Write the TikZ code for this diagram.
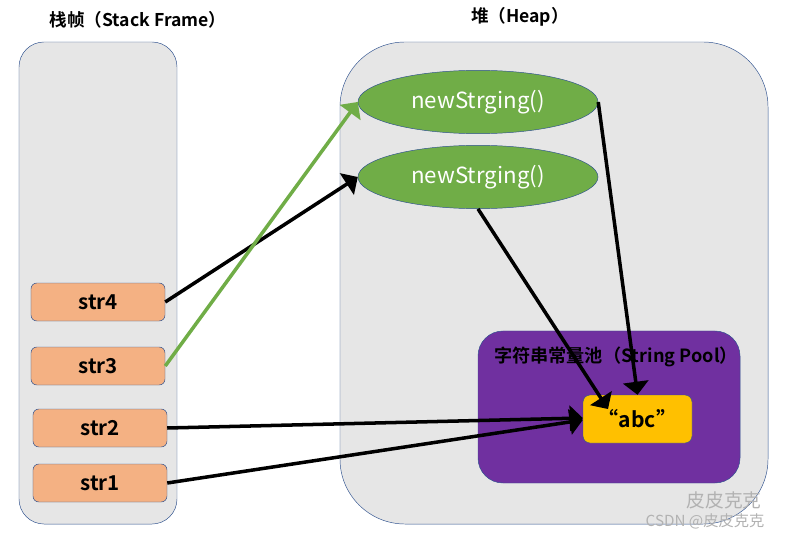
\documentclass[tikz,border=0pt]{standalone}
\usepackage{fontspec}
\setmainfont{Noto Sans CJK SC}[BoldFont={Noto Sans CJK SC Bold}]
\usepackage{tikz}
\usetikzlibrary{arrows, shapes.geometric, positioning, calc}
\definecolor{lineblue}{RGB}{47,82,143}
\definecolor{areagray}{RGB}{230,230,230}
\definecolor{objgreen}{RGB}{112,173,71}
\definecolor{poolpurple}{RGB}{112,48,160}
\definecolor{strorange}{RGB}{244,177,131}
\definecolor{abcyellow}{RGB}{255,192,0}
\tikzset{
  area/.style={draw=lineblue, fill=areagray, rounded corners=0.75cm, minimum height=14.46cm},
  strbox/.style={draw=lineblue, fill=strorange, rounded corners=5pt, minimum width=4.02cm, minimum height=1.14cm, inner sep=0pt, font=\bfseries\fontsize{17.5}{20}\selectfont},
  objell/.style={ellipse, draw=lineblue, fill=objgreen, minimum width=7.2cm, minimum height=1.9cm, inner sep=0pt, text=white, font=\fontsize{19}{21}\selectfont},
  title/.style={font=\bfseries\fontsize{15}{17}\selectfont},
  ref/.style={line width=3pt, -triangle 90}
}

\begin{document}
\begin{tikzpicture}[x=0.03cm, y=-0.03cm]
\useasboundingbox (0,0) rectangle (789,537);
% stack frame and heap
\node[area, minimum width=4.74cm] (stack) at (98,283) {};
\node[area, rounded corners=1.95cm, minimum width=12.84cm] (heap) at (554,283) {};
\node[title] (stacktitle) at (138,20) {栈帧（Stack Frame）};
\node[title] (heaptitle) at (520,17) {堆（Heap）};

% objects on the heap
\node[objell] (obj1) at (478,102) {newStrging()};
\node[objell] (obj2) at (478,177) {newStrging()};

% string pool
\node[draw=lineblue, fill=poolpurple, rounded corners=0.75cm, minimum width=7.86cm, minimum height=4.56cm] (pool) at (609,407) {};
\node[font=\bfseries\fontsize{15.5}{18}\selectfont] (pooltitle) at (616,357) {字符串常量池（String Pool）};
\node[draw=lineblue, fill=abcyellow, rounded corners=6pt, minimum width=3.27cm, minimum height=1.44cm, inner sep=0pt, font=\bfseries\fontsize{18}{20}\selectfont] (abc) at (637.5,419) {“abc”};
\coordinate (abcin) at (608,409);

% references on the stack
\node[strbox] (str4) at (98,302) {str4};
\node[strbox] (str3) at (98,366) {str3};
\node[strbox] (str2) at (100,428) {str2};
\node[strbox] (str1) at (100,483) {str1};

\draw[ref] (str4.east) -- (obj2.west);
\draw[ref, objgreen] (str3.east) -- (obj1.west);
\draw[ref] (str2.east) -- ($(abc.west)+(0,-1)$);
\draw[ref] (str1.east) -- ($(abc.west)+(0,1)$);
\draw[ref] (obj1.east) -- (abc.north);
\draw[ref] (obj2.south) -- (abcin);

% watermark
\node[text=black!30, font=\itshape\fontsize{16}{18}\selectfont, inner sep=1pt] (mark1) at (724,500) {皮皮克克};
\node[text=black!30, font=\fontsize{13}{15}\selectfont, inner sep=1pt] (mark2) at (705,521) {CSDN @皮皮克克};
\end{tikzpicture}
\end{document}
